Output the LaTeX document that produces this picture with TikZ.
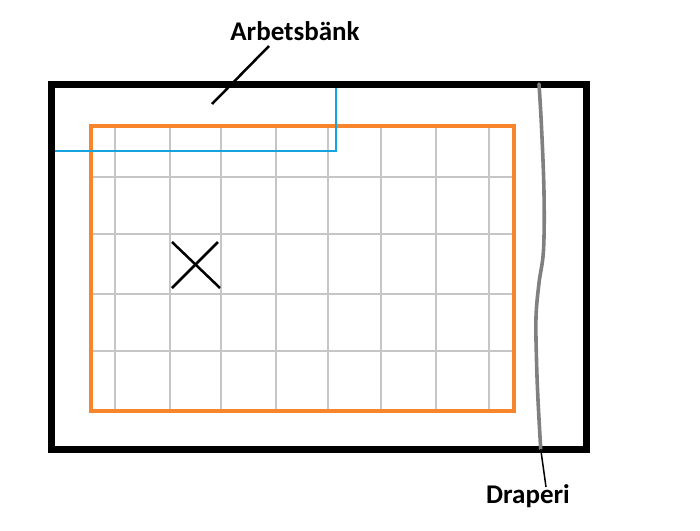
\documentclass[tikz,border=0pt]{standalone}
\usepackage{fontspec}
\setmainfont{Carlito}
\definecolor{benchorange}{HTML}{F7852C}
\definecolor{pipeblue}{HTML}{15A3DF}
\definecolor{gridgray}{HTML}{C6C6C6}
\definecolor{drapegray}{HTML}{808080}
\tikzset{
  bench/.style={draw=black, line width=7pt},
  area/.style={draw=benchorange, line width=4pt},
  gridline/.style={draw=gridgray, line width=2.2pt},
  pipe/.style={draw=pipeblue, line width=2.2pt},
  drape/.style={draw=drapegray, line width=3.6pt, line cap=round},
  pointer/.style={draw=black, line width=2.5pt},
  thinpointer/.style={draw=black, line width=1.5pt},
  lbl/.style={font=\bfseries\fontsize{27}{31}\selectfont, inner sep=0pt, anchor=base},
  cross/.style={draw=black, line width=2.5pt}
}
\begin{document}
\begin{tikzpicture}[x=1pt,y=-1pt]
\useasboundingbox[fill=white] (0,0) rectangle (700,530);
% grid
\foreach \gx in {115,170,221,276,328,381,436,489}
  \draw[gridline] (\gx,125.5) -- (\gx,411);
\foreach \gy in {177,234,294,351}
  \draw[gridline] (90.5,\gy) -- (513.5,\gy);
% work area
\draw[area] (90.5,125.5) rectangle (513.5,411);
% bench
\draw[bench] (51,84.5) rectangle (586.5,449.5);
% blue pipe
\coordinate (p1) at (55,151);
\coordinate (p2) at (336,151);
\coordinate (p3) at (336,88);
\draw[pipe] (p1) -- (p2) -- (p3);
% cross
\coordinate (x1) at (172,242);
\coordinate (x2) at (220,288);
\coordinate (x3) at (172,288);
\coordinate (x4) at (218,242);
\draw[cross] (x1) -- (x2);
\draw[cross] (x3) -- (x4);
% drape
\draw[drape] plot[smooth, tension=0.6] coordinates {(539,84) (541.5,127) (544,193) (543.5,250) (539,283) (536,317) (536.5,360) (538,400) (540.7,449)};
% labels
\node[lbl] (bench label) at (295,40) {Arbetsbänk};
\node[lbl] (drape label) at (528,503) {Draperi};
\coordinate (bp1) at (269,46);
\coordinate (bp2) at (212,104);
\draw[pointer] (bp1) -- (bp2);
\coordinate (dp1) at (540.7,449);
\coordinate (dp2) at (546,487);
\draw[thinpointer] (dp1) -- (dp2);
\end{tikzpicture}
\end{document}
